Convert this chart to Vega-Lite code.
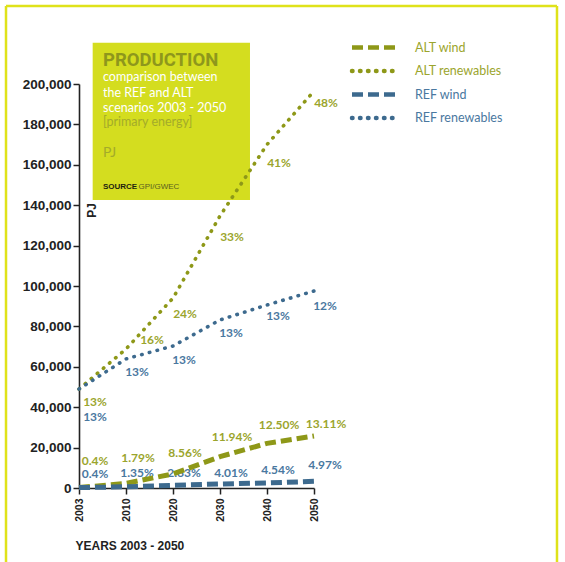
{
  "$schema": "https://vega.github.io/schema/vega-lite/v6.json",
  "width": 235,
  "height": 404,
  "autosize": "none",
  "padding": {"left": 79, "top": 84, "right": 251, "bottom": 74},
  "background": "white",
  "config": {"view": {"stroke": null}, "font": "Lato"},
  "datasets": {
    "series": [
      {"year": "2003", "series": "ALT wind", "pj": 200},
      {"year": "2010", "series": "ALT wind", "pj": 2300},
      {"year": "2020", "series": "ALT wind", "pj": 7000},
      {"year": "2030", "series": "ALT wind", "pj": 15500},
      {"year": "2040", "series": "ALT wind", "pj": 22100},
      {"year": "2050", "series": "ALT wind", "pj": 25700},
      {"year": "2003", "series": "ALT renewables", "pj": 49000},
      {"year": "2010", "series": "ALT renewables", "pj": 68800},
      {"year": "2020", "series": "ALT renewables", "pj": 94000},
      {"year": "2030", "series": "ALT renewables", "pj": 134700},
      {"year": "2040", "series": "ALT renewables", "pj": 170000},
      {"year": "2050", "series": "ALT renewables", "pj": 196500},
      {"year": "2003", "series": "REF wind", "pj": 200},
      {"year": "2010", "series": "REF wind", "pj": 600},
      {"year": "2020", "series": "REF wind", "pj": 1300},
      {"year": "2030", "series": "REF wind", "pj": 2000},
      {"year": "2040", "series": "REF wind", "pj": 2500},
      {"year": "2050", "series": "REF wind", "pj": 3300},
      {"year": "2003", "series": "REF renewables", "pj": 49000},
      {"year": "2010", "series": "REF renewables", "pj": 63900},
      {"year": "2020", "series": "REF renewables", "pj": 70300},
      {"year": "2030", "series": "REF renewables", "pj": 83200},
      {"year": "2040", "series": "REF renewables", "pj": 90600},
      {"year": "2050", "series": "REF renewables", "pj": 97500}
    ],
    "labels": [
      {"year": "2003", "scenario": "ALT", "pct": "13%", "labelPJ": 42600},
      {"year": "2010", "scenario": "ALT", "pct": "16%", "labelPJ": 73300},
      {"year": "2020", "scenario": "ALT", "pct": "24%", "labelPJ": 86100},
      {"year": "2030", "scenario": "ALT", "pct": "33%", "labelPJ": 124300},
      {"year": "2040", "scenario": "ALT", "pct": "41%", "labelPJ": 160900},
      {"year": "2050", "scenario": "ALT", "pct": "48%", "labelPJ": 190600},
      {"year": "2003", "scenario": "REF", "pct": "13%", "labelPJ": 35200},
      {"year": "2010", "scenario": "REF", "pct": "13%", "labelPJ": 57400},
      {"year": "2020", "scenario": "REF", "pct": "13%", "labelPJ": 63400},
      {"year": "2030", "scenario": "REF", "pct": "13%", "labelPJ": 76700},
      {"year": "2040", "scenario": "REF", "pct": "13%", "labelPJ": 85100},
      {"year": "2050", "scenario": "REF", "pct": "12%", "labelPJ": 90100},
      {"year": "2003", "scenario": "ALT", "pct": "0.4%", "labelPJ": 13300},
      {"year": "2010", "scenario": "ALT", "pct": "1.79%", "labelPJ": 14900},
      {"year": "2020", "scenario": "ALT", "pct": "8.56%", "labelPJ": 17300},
      {"year": "2030", "scenario": "ALT", "pct": "11.94%", "labelPJ": 25200},
      {"year": "2040", "scenario": "ALT", "pct": "12.50%", "labelPJ": 31200},
      {"year": "2050", "scenario": "ALT", "pct": "13.11%", "labelPJ": 31700},
      {"year": "2003", "scenario": "REF", "pct": "0.4%", "labelPJ": 7000},
      {"year": "2010", "scenario": "REF", "pct": "1.35%", "labelPJ": 7400},
      {"year": "2020", "scenario": "REF", "pct": "2.63%", "labelPJ": 7400},
      {"year": "2030", "scenario": "REF", "pct": "4.01%", "labelPJ": 7400},
      {"year": "2040", "scenario": "REF", "pct": "4.54%", "labelPJ": 8900},
      {"year": "2050", "scenario": "REF", "pct": "4.97%", "labelPJ": 11400}
    ]
  },
  "layer": [
    {
      "layer": [
        {
          "data": {"values": [
            {"fx": -1.553, "fx2": 10.17, "fy": 238600, "fy2": 238600},
            {"fx": -1.553, "fx2": -1.553, "fy": 238600, "fy2": -45000},
            {"fx": 10.17, "fx2": 10.17, "fy": 238600, "fy2": -45000}
          ]},
          "mark": {"type": "rule", "color": "#dfe21a", "strokeWidth": 2.5},
          "encoding": {
            "x": {"field": "fx", "type": "quantitative", "scale": {"domain": [0, 5], "nice": false, "zero": false}, "axis": null},
            "x2": {"field": "fx2"},
            "y": {"field": "fy", "type": "quantitative", "scale": {"domain": [0, 200000], "nice": false, "zero": false}, "axis": null},
            "y2": {"field": "fy2"}
          }
        },
        {
          "data": {"values": [{"fx": 0.291, "fx2": 3.638, "fy": 220400, "fy2": 142600}]},
          "mark": {"type": "rect", "color": "#d4dd1f"},
          "encoding": {
            "x": {"field": "fx", "type": "quantitative"},
            "x2": {"field": "fx2"},
            "y": {"field": "fy", "type": "quantitative"},
            "y2": {"field": "fy2"}
          }
        },
        {
          "data": {"values": [{"fx": 0.51, "fy": 208900, "t": "PRODUCTION"}]},
          "mark": {"type": "text", "align": "left", "baseline": "alphabetic", "font": "Roboto", "fontWeight": "bold", "fontSize": 18.5, "color": "#8e971c"},
          "encoding": {"x": {"field": "fx", "type": "quantitative"}, "y": {"field": "fy", "type": "quantitative"}, "text": {"field": "t"}}
        },
        {
          "data": {"values": [
            {"fx": 0.51, "fy": 201500, "t": "comparison between"},
            {"fx": 0.51, "fy": 193700, "t": "the REF and ALT"},
            {"fx": 0.51, "fy": 186300, "t": "scenarios 2003 - 2050"}
          ]},
          "mark": {"type": "text", "align": "left", "baseline": "alphabetic", "font": "Lato", "fontSize": 12.5, "color": "#ffffff"},
          "encoding": {"x": {"field": "fx", "type": "quantitative"}, "y": {"field": "fy", "type": "quantitative"}, "text": {"field": "t"}}
        },
        {
          "data": {"values": [{"fx": 0.51, "fy": 179400, "t": "[primary energy]"}]},
          "mark": {"type": "text", "align": "left", "baseline": "alphabetic", "font": "Lato", "fontSize": 12.5, "color": "#a3ab2a"},
          "encoding": {"x": {"field": "fx", "type": "quantitative"}, "y": {"field": "fy", "type": "quantitative"}, "text": {"field": "t"}}
        },
        {
          "data": {"values": [{"fx": 0.51, "fy": 163700, "t": "PJ"}]},
          "mark": {"type": "text", "align": "left", "baseline": "alphabetic", "font": "Lato", "fontSize": 14, "color": "#a3ab2a"},
          "encoding": {"x": {"field": "fx", "type": "quantitative"}, "y": {"field": "fy", "type": "quantitative"}, "text": {"field": "t"}}
        },
        {
          "data": {"values": [{"fx": 0.51, "fy": 147900, "t": "SOURCE"}]},
          "mark": {"type": "text", "align": "left", "baseline": "alphabetic", "font": "Liberation Sans", "fontWeight": "bold", "fontSize": 8, "color": "#1e1e10"},
          "encoding": {"x": {"field": "fx", "type": "quantitative"}, "y": {"field": "fy", "type": "quantitative"}, "text": {"field": "t"}}
        },
        {
          "data": {"values": [{"fx": 1.265, "fy": 147900, "t": "GPI/GWEC"}]},
          "mark": {"type": "text", "align": "left", "baseline": "alphabetic", "font": "Liberation Sans", "fontSize": 8, "color": "#5b6020"},
          "encoding": {"x": {"field": "fx", "type": "quantitative"}, "y": {"field": "fy", "type": "quantitative"}, "text": {"field": "t"}}
        }
      ]
    },
    {
      "layer": [
        {
          "data": {"name": "labels"},
          "transform": [{"filter": "datum.scenario === 'ALT' && datum.year !== '2003' && datum.pct !== '16%'"}],
          "mark": {"type": "text", "align": "center", "baseline": "middle", "dx": 12, "font": "Lato", "fontWeight": "bold", "fontSize": 12, "color": "#9ba52d"},
          "encoding": {
            "x": {
              "field": "year", "type": "ordinal", "scale": {"type": "point", "padding": 0},
              "axis": {
                "orient": "bottom",
                "title": "YEARS 2003 - 2050",
                "labelAngle": -90,
                "labelFont": "Liberation Sans", "labelFontWeight": "bold", "labelFontSize": 10.5, "labelColor": "#222222",
                "labelPadding": 4,
                "tickColor": "#222222", "tickSize": 6, "tickWidth": 1.5,
                "domainColor": "#222222", "domainWidth": 1.6,
                "grid": false,
                "titleFont": "Liberation Sans", "titleFontWeight": "bold", "titleFontSize": 12, "titleColor": "#222222",
                "titleX": -4, "titleY": 57, "titleAlign": "left", "titleAnchor": "start", "titleBaseline": "middle"
              }
            },
            "y": {
              "field": "labelPJ", "type": "quantitative", "scale": {"domain": [0, 200000], "nice": false},
              "axis": {
                "orient": "left",
                "title": "PJ",
                "values": [0, 20000, 40000, 60000, 80000, 100000, 120000, 140000, 160000, 180000, 200000],
                "format": ",.0f",
                "labelFont": "Liberation Sans", "labelFontWeight": "bold", "labelFontSize": 13.5, "labelColor": "#222222",
                "labelPadding": 2,
                "tickColor": "#222222", "tickSize": 6, "tickWidth": 1.5,
                "domainColor": "#222222", "domainWidth": 1.6,
                "grid": false,
                "titleFont": "Liberation Sans", "titleFontWeight": "bold", "titleFontSize": 12, "titleColor": "#222222",
                "titleX": 12, "titleY": 126, "titleAngle": 270, "titleBaseline": "middle", "titleAlign": "center"
              }
            },
            "text": {"field": "pct"}
          }
        },
        {
          "data": {"name": "labels"},
          "transform": [{"filter": "datum.scenario === 'ALT' && datum.year === '2003'"}],
          "mark": {"type": "text", "align": "center", "baseline": "middle", "dx": 16, "font": "Lato", "fontWeight": "bold", "fontSize": 12, "color": "#9ba52d"},
          "encoding": {
            "x": {"field": "year", "type": "ordinal"},
            "y": {"field": "labelPJ", "type": "quantitative"},
            "text": {"field": "pct"}
          }
        },
        {
          "data": {"name": "labels"},
          "transform": [{"filter": "datum.scenario === 'ALT' && datum.pct === '16%'"}],
          "mark": {"type": "text", "align": "center", "baseline": "middle", "dx": 26, "font": "Lato", "fontWeight": "bold", "fontSize": 12, "color": "#9ba52d"},
          "encoding": {
            "x": {"field": "year", "type": "ordinal"},
            "y": {"field": "labelPJ", "type": "quantitative"},
            "text": {"field": "pct"}
          }
        },
        {
          "data": {"name": "labels"},
          "transform": [{"filter": "datum.scenario === 'REF' && datum.year !== '2003'"}],
          "mark": {"type": "text", "align": "center", "baseline": "middle", "dx": 11, "font": "Lato", "fontWeight": "bold", "fontSize": 12, "color": "#4a78a0"},
          "encoding": {
            "x": {"field": "year", "type": "ordinal"},
            "y": {"field": "labelPJ", "type": "quantitative"},
            "text": {"field": "pct"}
          }
        },
        {
          "data": {"name": "labels"},
          "transform": [{"filter": "datum.scenario === 'REF' && datum.year === '2003'"}],
          "mark": {"type": "text", "align": "center", "baseline": "middle", "dx": 16, "font": "Lato", "fontWeight": "bold", "fontSize": 12, "color": "#4a78a0"},
          "encoding": {
            "x": {"field": "year", "type": "ordinal"},
            "y": {"field": "labelPJ", "type": "quantitative"},
            "text": {"field": "pct"}
          }
        },
        {
          "data": {"name": "series"},
          "transform": [{"filter": "indexof(datum.series, 'renewables') >= 0"}],
          "mark": {"type": "line", "strokeWidth": 3.6, "strokeCap": "round"},
          "encoding": {
            "x": {"field": "year", "type": "ordinal"},
            "y": {"field": "pj", "type": "quantitative"},
            "color": {"field": "series", "type": "nominal"},
            "strokeDash": {"field": "series", "type": "nominal"}
          }
        },
        {
          "data": {"name": "series"},
          "transform": [{"filter": "indexof(datum.series, 'wind') >= 0"}],
          "mark": {"type": "line", "strokeWidth": 5, "strokeCap": "butt"},
          "encoding": {
            "x": {"field": "year", "type": "ordinal"},
            "y": {"field": "pj", "type": "quantitative"},
            "color": {
              "field": "series", "type": "nominal",
              "scale": {"domain": ["ALT wind", "ALT renewables", "REF wind", "REF renewables"], "range": ["#8e9818", "#8e9818", "#3d6a8e", "#3d6a8e"]},
              "legend": {
                "title": null, "orient": "none", "legendX": 284, "legendY": -48, "padding": 0,
                "symbolType": "M-2.5,0H2.5", "symbolSize": 324, "symbolStrokeWidth": 4.5,
                "labelFont": "Lato", "labelFontSize": 12.5, "labelOffset": 29, "rowPadding": 2.5,
                "encode": {
                  "labels": {"update": {"fill": {"signal": "indexof(datum.value, 'REF') === 0 ? '#4a78a0' : '#9ba52d'"}}},
                  "symbols": {"update": {"strokeCap": {"signal": "indexof(datum.value, 'renewables') >= 0 ? 'round' : 'butt'"}}}
                }
              }
            },
            "strokeDash": {
              "field": "series", "type": "nominal",
              "scale": {"domain": ["ALT wind", "ALT renewables", "REF wind", "REF renewables"], "range": [[11, 5], [0.5, 7.5], [11, 5], [0.5, 7.5]]},
              "legend": {
                "title": null, "orient": "none", "legendX": 284, "legendY": -48, "padding": 0,
                "symbolType": "M-2.5,0H2.5", "symbolSize": 324, "symbolStrokeWidth": 4.5,
                "labelFont": "Lato", "labelFontSize": 12.5, "labelOffset": 29, "rowPadding": 2.5
              }
            }
          }
        }
      ]
    }
  ],
  "resolve": {
    "scale": {"x": "independent", "y": "independent"},
    "axis": {"x": "independent", "y": "independent"}
  }
}
